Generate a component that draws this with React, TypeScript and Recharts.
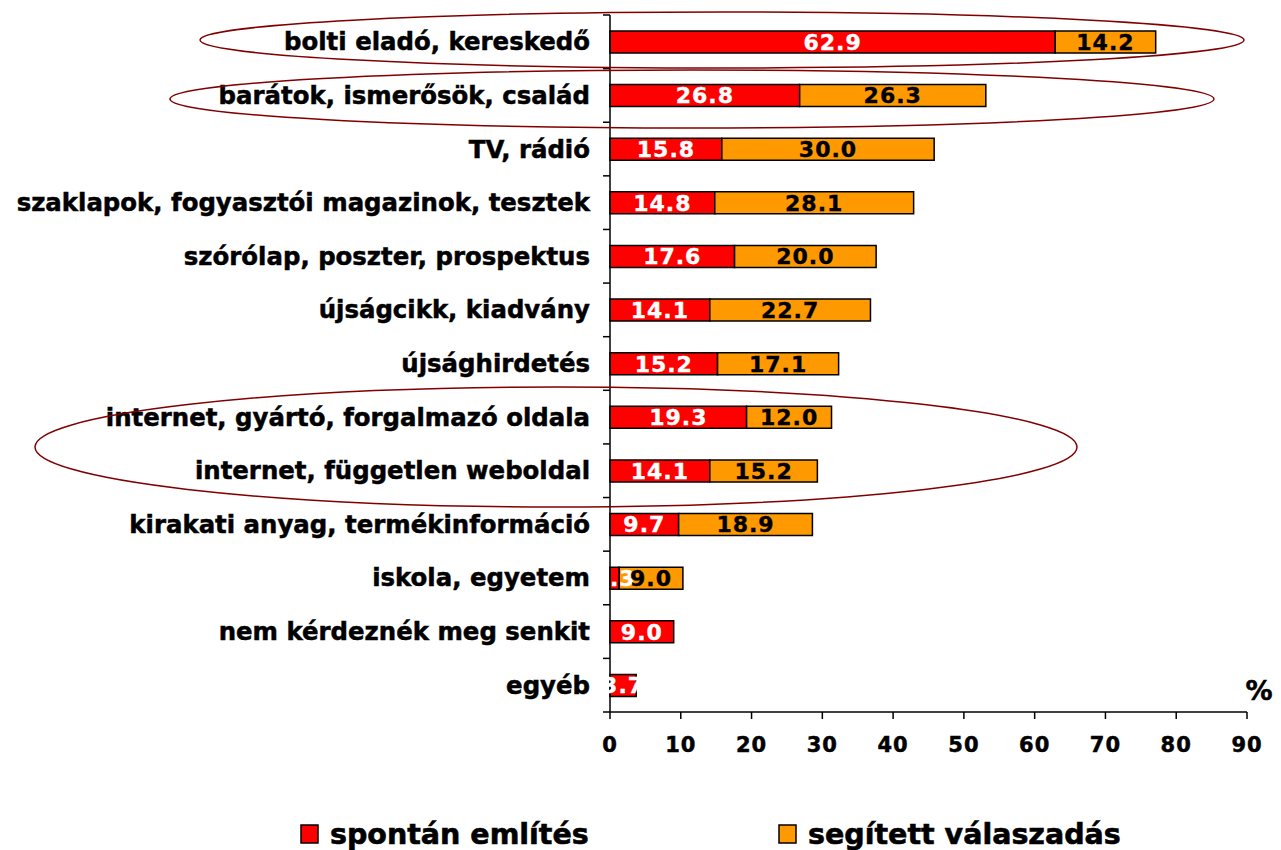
import React from 'react';
import { BarChart, Bar, XAxis, YAxis, LabelList, Legend } from 'recharts';

const categories = [
  'bolti eladó, kereskedő',
  'barátok, ismerősök, család',
  'TV, rádió',
  'szaklapok, fogyasztói magazinok, tesztek',
  'szórólap, poszter, prospektus',
  'újságcikk, kiadvány',
  'újsághirdetés',
  'internet, gyártó, forgalmazó oldala',
  'internet, független weboldal',
  'kirakati anyag, termékinformáció',
  'iskola, egyetem',
  'nem kérdeznék meg senkit',
  'egyéb',
];
const spontan: (number | null)[] = [62.9, 26.8, 15.8, 14.8, 17.6, 14.1, 15.2, 19.3, 14.1, 9.7, 1.3, 9.0, 3.7];
const segitett: (number | null)[] = [14.2, 26.3, 30.0, 28.1, 20.0, 22.7, 17.1, 12.0, 15.2, 18.9, 9.0, null, null];
const xTicks = [0, 10, 20, 30, 40, 50, 60, 70, 80, 90];
const seriesNames = ['spontán említés', 'segített válaszadás'];
const seriesColors = ['#FF0000', '#FF9900'];

const data = categories.map((name, i) => ({ name, spontan: spontan[i], segitett: segitett[i] }));

const FONT = 'DejaVu Sans, Verdana, sans-serif';

const YTick = (props: any) => {
  const { x, y, payload, index } = props;
  const off = payload && payload.offset ? payload.offset : 26.8;
  const ax = x + 20;
  return (
    <g>
      <text x={x} y={y} textAnchor="end" dominantBaseline="central" fontFamily={FONT} fontWeight="bold" fontSize={24.4} fill="#000" stroke="#000" strokeWidth={0.5}>
        {payload.value}
      </text>
      <line x1={ax - 7} x2={ax} y1={y - off} y2={y - off} stroke="#000" strokeWidth={1.5} />
      {index === categories.length - 1 && (
        <line x1={ax - 7} x2={ax} y1={y + off} y2={y + off} stroke="#000" strokeWidth={1.5} />
      )}
    </g>
  );
};

const XTick = (props: any) => {
  const { x, y, payload } = props;
  return (
    <text x={x} y={y} dy="0.71em" textAnchor="middle" fontFamily={FONT} fontWeight="bold" fontSize={21} fill="#000" stroke="#000" strokeWidth={0.5} letterSpacing={1}>
      {payload.value}
    </text>
  );
};

const fmt = (v: any) => (v === null || v === undefined ? '' : Number(v).toFixed(1));

const LegendContent = () => (
  <svg width={1265} height={88} style={{ display: 'block' }}>
    {seriesNames.map((n, i) => {
      const x0 = i === 0 ? 293 : 771;
      return (
        <g key={n}>
          <rect x={x0} y={63} width={17} height={18} fill={seriesColors[i]} stroke="#000" strokeWidth={1.5} />
          <text x={x0 + 29} y={72} dominantBaseline="central" fontFamily={FONT} fontWeight="bold" fontSize={28.5} fill="#000" stroke="#000" strokeWidth={0.6}>
            {n}
          </text>
        </g>
      );
    })}
  </svg>
);

export default function App() {
  return (
    <div style={{ position: 'relative', width: 1265, height: 842 }}>
      <BarChart
        width={1265}
        height={842}
        data={data}
        layout="vertical"
        margin={{ top: 7, right: 26, left: 0, bottom: 0 }}
        barSize={22}
      >
        <XAxis
          type="number"
          domain={[0, 90]}
          ticks={xTicks}
          interval={0}
          height={50}
          tickSize={7}
          tickMargin={18}
          stroke="#000"
          strokeWidth={1.5}
          tick={<XTick />}
        />
        <YAxis
          type="category"
          dataKey="name"
          width={602}
          tickSize={7}
          tickMargin={13}
          tickLine={false}
          stroke="#000"
          strokeWidth={1.5}
          interval={0}
          tick={<YTick />}
        />
        <Legend verticalAlign="bottom" height={88} content={<LegendContent />} />
        <Bar dataKey="spontan" stackId="a" fill={seriesColors[0]} stroke="#000" strokeWidth={1.5} isAnimationActive={false}>
          <LabelList dataKey="spontan" position="center" formatter={fmt} fill="#fff" stroke="#fff" strokeWidth={0.4} fontSize={22} fontWeight="bold" fontFamily={FONT} letterSpacing={1} />
        </Bar>
        <Bar dataKey="segitett" stackId="a" fill={seriesColors[1]} stroke="#000" strokeWidth={1.5} isAnimationActive={false}>
          <LabelList dataKey="segitett" position="center" formatter={fmt} fill="#000" stroke="#000" strokeWidth={0.4} fontSize={22} fontWeight="bold" fontFamily={FONT} letterSpacing={1} />
        </Bar>
      </BarChart>
      <svg width={1265} height={842} style={{ position: 'absolute', left: 0, top: 0, pointerEvents: 'none' }}>
        <ellipse cx={714} cy={32} rx={522} ry={28} fill="none" stroke="#800000" strokeWidth={1.5} />
        <ellipse cx={684} cy={91} rx={522} ry={29} fill="none" stroke="#800000" strokeWidth={1.5} />
        <ellipse cx={548} cy={439} rx={521} ry={60} fill="none" stroke="#800000" strokeWidth={1.5} />
        <text x={1251} y={682} textAnchor="middle" dominantBaseline="central" fontFamily={FONT} fontWeight="bold" fontSize={27} fill="#000" stroke="#000" strokeWidth={0.5}>%</text>
      </svg>
    </div>
  );
}
